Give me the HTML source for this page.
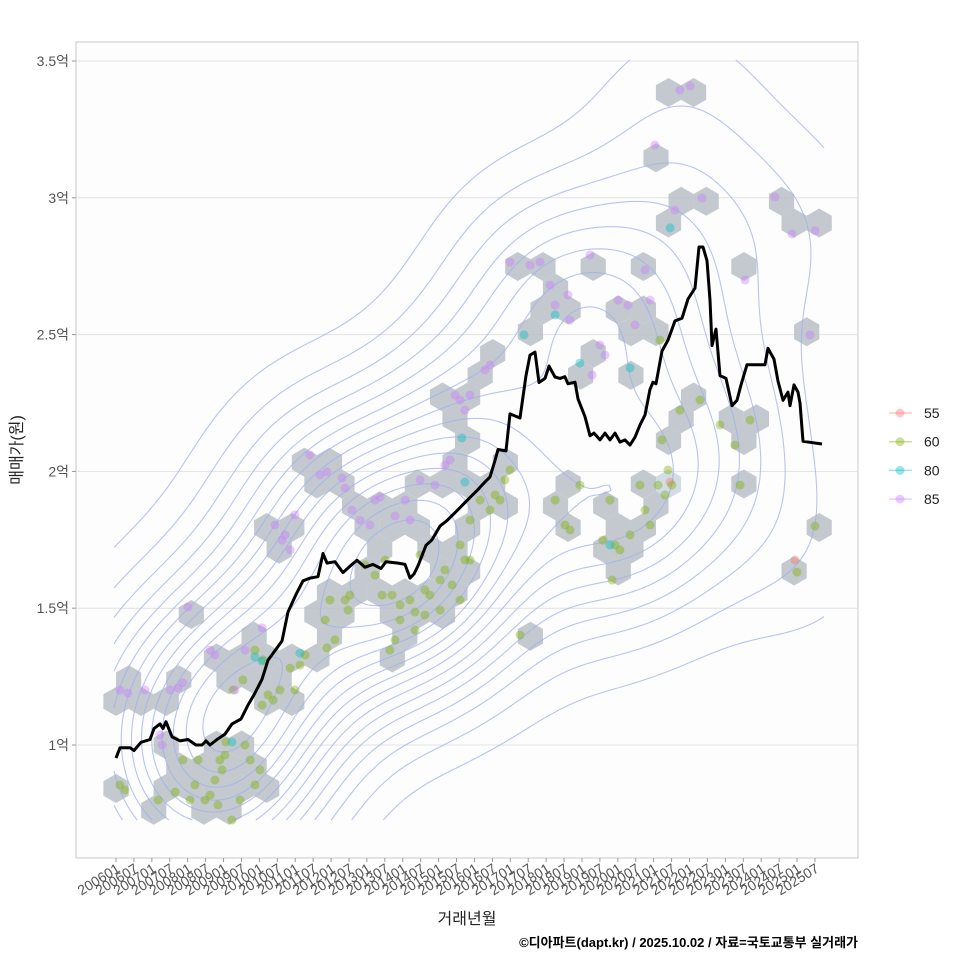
<!DOCTYPE html>
<html><head><meta charset="utf-8"><style>
html,body{margin:0;padding:0;background:#fff;}
svg{display:block;font-family:"Liberation Sans","Noto Sans CJK KR",sans-serif;}
</style></head><body>
<svg id="chart" width="960" height="960" viewBox="0 0 960 960">
<rect x="76" y="42" width="782" height="816" fill="#fdfdfd" stroke="#c8c8c8"/>
<g id="grid"></g>
<g id="hexes"></g>
<g id="contours"></g>
<g id="points"></g>
<g id="line"></g>
<g id="yaxis"></g>
<g id="xaxis"></g>
<text x="22" y="450" transform="rotate(-90 22 450)" text-anchor="middle" font-size="16" fill="#222">매매가(원)</text>
<text x="467" y="924" text-anchor="middle" font-size="16" fill="#222">거래년월</text>
<text x="858" y="947" text-anchor="end" font-size="13" font-weight="bold" fill="#000">©디아파트(dapt.kr) / 2025.10.02 / 자료=국토교통부 실거래가</text>
<g id="legend"></g>
</svg>
<script>
// ---- data ----
const yTicks = [1, 1.5, 2, 2.5, 3, 3.5];
const yTickLabels = ["1억", "1.5억", "2억", "2.5억", "3억", "3.5억"];
const legendAreas = ["55", "60", "80", "85"];
const legendColors = ["#F8766D", "#7CAE00", "#00BFC4", "#C77CFF"];
// median line: month index (0 = 2006-01) and price (억)
const lineMonths = [0,1.34,4.69,6.03,8.37,11.38,12.72,14.73,15.73,16.74,18.75,21.43,24.1,26.78,28.79,30.13,31.47,33.81,36.49,38.83,41.85,44.19,46.54,48.88,50.89,53.57,55.57,57.58,60.26,62.6,64.95,67.63,69.3,70.64,73.32,76,79.01,80.68,83.36,86.04,88.72,90.39,94.41,96.75,98.43,99.77,101.11,103.78,105.79,108.47,110.81,114.5,118.51,120.86,122.53,125.21,126.88,127.89,130.57,131.9,135.25,137.26,138.6,140.27,141.61,143.62,144.96,146.97,148.64,150.3,151.32,153.67,154.67,157.01,158.69,160.03,162.04,163.71,165.38,167.06,168.73,170.41,172.08,173.75,175.43,177.1,178.77,179.78,180.78,182.79,184.8,187.14,189.49,191.5,193.84,195.18,196.52,197.86,198.86,199.53,200.87,202.21,204.22,206.23,207.9,209.24,211.25,217.27,218.28,220.29,221.63,223.3,224.98,225.65,226.99,228.32,229,230,236.36];
const lineValues = [0.952,0.99,0.99,0.98,1.01,1.02,1.06,1.077,1.06,1.085,1.03,1.015,1.02,1.0,1.0,1.015,1.0,1.02,1.04,1.077,1.095,1.146,1.19,1.24,1.31,1.35,1.38,1.486,1.55,1.6,1.61,1.615,1.7,1.665,1.67,1.63,1.66,1.675,1.65,1.66,1.645,1.67,1.665,1.66,1.61,1.625,1.655,1.73,1.75,1.8,1.82,1.86,1.905,1.93,1.95,1.98,2.04,2.08,2.075,2.21,2.195,2.35,2.425,2.436,2.325,2.34,2.385,2.345,2.34,2.346,2.32,2.326,2.265,2.2,2.13,2.14,2.115,2.14,2.115,2.14,2.107,2.115,2.096,2.125,2.17,2.206,2.3,2.326,2.32,2.44,2.48,2.55,2.56,2.63,2.67,2.82,2.82,2.77,2.626,2.46,2.52,2.35,2.34,2.24,2.26,2.316,2.39,2.39,2.45,2.41,2.33,2.26,2.29,2.24,2.316,2.29,2.25,2.11,2.1];
// transactions per area group: month index, price (억)
const a60Months = [1.3,3.0,14.1,19.8,22.4,24.8,26.4,27.5,29.8,31.5,33.1,34.8,35.5,36.5,38.8,34.1,41.5,43.2,44.9,46.5,48.2,48.9,50.9,52.6,54.9,58.3,59.9,61.6,49.2,46.5,39.2,42.5,36.8,63.3,70.0,71.6,73.3,76.7,78.3,83.4,86.7,90.1,91.7,93.4,95.1,98.4,100.1,101.8,103.4,105.1,108.5,110.1,112.5,115.2,116.8,118.5,121.9,125.2,126.9,128.6,130.2,131.9,118.5,115.2,108.5,103.4,100.1,89.1,77.7,70.6,92.4,95.1,135.3,147.0,150.3,152.0,165.4,167.1,166.1,168.7,172.1,175.4,177.1,178.8,181.5,182.8,183.8,184.8,186.1,188.8,195.5,202.2,207.2,208.9,212.3,228.0,234.0,182.1,155.3,163.0];
const a60Values = [0.854,0.836,0.799,0.828,0.945,0.799,0.854,0.945,0.799,0.817,0.872,0.945,0.909,0.963,0.726,0.781,0.799,1.0,0.945,0.854,0.909,1.146,1.183,1.164,1.201,1.281,1.201,1.292,1.311,1.347,1.201,1.238,1.011,1.329,1.457,1.530,1.384,1.530,1.548,1.658,1.621,1.676,1.347,1.384,1.457,1.530,1.420,1.694,1.567,1.548,1.603,1.640,1.585,1.731,1.676,1.822,1.895,1.859,1.914,1.895,1.969,2.005,1.676,1.530,1.493,1.475,1.486,1.548,1.493,1.355,1.548,1.512,1.402,1.895,1.804,1.786,1.895,1.731,1.603,1.713,1.768,1.950,1.859,1.804,1.950,2.115,1.914,2.005,1.950,2.224,2.261,2.170,2.096,1.950,2.188,1.632,1.800,2.480,1.950,1.749];
const a85Months = [1.3,4.0,9.7,14.7,15.4,18.1,20.8,22.4,24.1,31.5,33.1,39.8,43.2,48.9,53.2,55.6,56.6,58.3,59.9,64.9,68.3,70.6,75.7,76.7,79.0,81.7,85.0,86.7,88.4,93.4,98.4,96.8,101.8,106.8,110.1,111.8,113.5,115.2,116.8,118.5,123.5,125.2,131.9,138.6,141.9,145.3,147.0,151.3,152.0,158.7,159.4,162.0,163.7,168.1,171.4,173.8,177.1,178.8,180.4,187.1,188.8,192.2,196.2,210.6,220.6,226.3,232.3,234.0];
const a85Values = [1.201,1.190,1.201,1.037,1.0,1.201,1.208,1.227,1.504,1.347,1.329,1.201,1.347,1.428,1.804,1.749,1.768,1.713,1.841,2.060,1.987,1.998,1.976,1.939,1.859,1.822,1.804,1.895,1.906,1.837,1.822,1.895,1.969,1.950,2.023,2.042,2.279,2.261,2.224,2.279,2.371,2.389,2.765,2.754,2.765,2.681,2.608,2.645,2.553,2.791,2.352,2.462,2.425,2.626,2.608,2.535,2.736,2.626,3.193,2.955,3.394,3.409,2.999,2.700,3.003,2.868,2.499,2.880];
const a80Months = [38.8,46.5,48.9,61.6,115.8,116.8,136.6,147.0,155.3,172.1,185.5,165.4];
const a80Values = [1.011,1.322,1.307,1.336,2.122,1.961,2.499,2.572,2.396,2.378,2.890,1.731];
const a55Months = [185.5,227.3];
const a55Values = [1.961,1.676];
const xTickLabels = [];
for (let yr = 2006; yr <= 2025; yr++) { xTickLabels.push(yr + "01"); xTickLabels.push(yr + "07"); }

// ---- scales ----
const NS = "http://www.w3.org/2000/svg";
function xS(m) { return 116 + m * 2.987; }
function yS(v) { return 745 - (v - 1) * 273.6; }
function mk(tag, attrs, parent) {
  const e = document.createElementNS(NS, tag);
  for (const k in attrs) e.setAttribute(k, attrs[k]);
  parent.appendChild(e);
  return e;
}
const gGrid = document.getElementById('grid');
const gY = document.getElementById('yaxis');
yTicks.forEach((v, i) => {
  const ln = mk('line', {x1: 76, x2: 858, y1: yS(v), y2: yS(v), stroke: '#e2e2e2', 'stroke-width': 1}, gGrid);
  
  
  const tk = mk('line', {x1: 72, x2: 76, y1: yS(v), y2: yS(v), stroke: '#999'}, gY);
  
  
  const t = mk('text', {x: 69, y: yS(v) + 5, 'text-anchor': 'end', 'font-size': 14, fill: '#555'}, gY);
  t.textContent = yTickLabels[i];
  
  
});
const gX = document.getElementById('xaxis');
xTickLabels.forEach((lab, i) => {
  const x = xS(i * 6);
  const tk = mk('line', {x1: x, x2: x, y1: 858, y2: 862, stroke: '#999'}, gX);
  
  
  const t = mk('text', {x: x + 5, y: 871, 'text-anchor': 'end', 'font-size': 14, fill: '#555', transform: `rotate(-32 ${x + 5} 871)`}, gX);
  t.textContent = lab;
  
  
});

// build pixel point list
const P = [], PG = [];
[[a55Months, a55Values, 0], [a60Months, a60Values, 1], [a80Months, a80Values, 2], [a85Months, a85Values, 3]].forEach(([ms, vs, g]) => {
  ms.forEach((m, i) => { P.push([xS(m), yS(vs[i])]); PG.push(g); });
});

// ---- hexbin ----
const gH = document.getElementById('hexes');
const R = 14.5, HW = Math.sqrt(3) * R, HR = 1.5 * R;
const bins = {};
P.forEach(([x, y]) => {
  let best = null, bd = 1e9;
  const r0 = Math.round((y - 745) / HR);
  for (let r = r0 - 1; r <= r0 + 1; r++) {
    const off = (((r % 2) + 2) % 2) ? HW / 2 : 0;
    const cy = 745 + r * HR;
    const c0 = Math.round((x - 116 - off) / HW);
    for (let c = c0 - 1; c <= c0 + 1; c++) {
      const cx = 116 + off + c * HW;
      const d = (cx - x) ** 2 + (cy - y) ** 2;
      if (d < bd) { bd = d; best = [cx, cy]; }
    }
  }
  const k = best[0].toFixed(1) + ',' + best[1].toFixed(1);
  bins[k] = (bins[k] || 0) + 1;
});
Object.keys(bins).forEach(k => {
  const [cx, cy] = k.split(',').map(Number);
  let pts = [];
  for (let a = 0; a < 6; a++) {
    const ang = Math.PI / 3 * a + Math.PI / 6;
    pts.push((cx + R * Math.cos(ang)).toFixed(1) + ',' + (cy + R * Math.sin(ang)).toFixed(1));
  }
  const n = bins[k];
  const h = mk('polygon', {points: pts.join(' '), fill: n >= 4 ? '#c9d6e0' : '#b9bfc5', opacity: 0.85}, gH);
  
  
});

// ---- KDE contours (marching squares) ----
const gC = document.getElementById('contours');
const X0 = 114, X1 = 824, Y0 = 60, Y1 = 820, STEP = 5;
const nx = Math.floor((X1 - X0) / STEP) + 1, ny = Math.floor((Y1 - Y0) / STEP) + 1;
const bx = 66, by = 76;
const G = [];
let gmax = 0;
for (let j = 0; j < ny; j++) {
  const row = [];
  const gy = Y0 + j * STEP;
  for (let i = 0; i < nx; i++) {
    const gx = X0 + i * STEP;
    let s = 0;
    for (const [px, py] of P) {
      const dx = (gx - px) / bx, dy = (gy - py) / by;
      s += Math.exp(-0.5 * (dx * dx + dy * dy));
    }
    row.push(s);
    if (s > gmax) gmax = s;
  }
  G.push(row);
}
const levels = [];
for (let l = 1; l <= 15; l++) levels.push(gmax * l / 16);
let d = '';
function lerp(a, b, va, vb, lv) { return a + (b - a) * (lv - va) / (vb - va); }
levels.forEach(lv => {
  for (let j = 0; j < ny - 1; j++) for (let i = 0; i < nx - 1; i++) {
    const x = X0 + i * STEP, y = Y0 + j * STEP;
    const a = G[j][i], b = G[j][i + 1], c = G[j + 1][i + 1], e = G[j + 1][i];
    const idx = (a > lv ? 8 : 0) | (b > lv ? 4 : 0) | (c > lv ? 2 : 0) | (e > lv ? 1 : 0);
    if (idx === 0 || idx === 15) continue;
    const T = [lerp(x, x + STEP, a, b, lv), y];
    const Rr = [x + STEP, lerp(y, y + STEP, b, c, lv)];
    const B = [lerp(x, x + STEP, e, c, lv), y + STEP];
    const L = [x, lerp(y, y + STEP, a, e, lv)];
    const segs = {1:[[L,B]],2:[[B,Rr]],3:[[L,Rr]],4:[[T,Rr]],5:[[L,T],[B,Rr]],6:[[T,B]],7:[[L,T]],8:[[L,T]],9:[[T,B]],10:[[T,Rr],[L,B]],11:[[T,Rr]],12:[[L,Rr]],13:[[B,Rr]],14:[[L,B]]}[idx];
    segs.forEach(([p, q]) => { d += `M${p[0].toFixed(1)},${p[1].toFixed(1)}L${q[0].toFixed(1)},${q[1].toFixed(1)}`; });
  }
});
const cp = mk('path', {d: d, fill: 'none', stroke: '#9fb0ee', 'stroke-width': 1.1, opacity: 0.75}, gC);



// ---- points ----
const gP = document.getElementById('points');
P.forEach(([x, y], i) => {
  const c = mk('circle', {cx: x.toFixed(1), cy: y.toFixed(1), r: 4.5, fill: legendColors[PG[i]], 'fill-opacity': 0.4}, gP);
  
  
});

// ---- median line ----
const gL = document.getElementById('line');
const lp = mk('path', {d: lineMonths.map((m, i) => (i ? 'L' : 'M') + xS(m).toFixed(1) + ',' + yS(lineValues[i]).toFixed(1)).join(''), fill: 'none', stroke: '#000', 'stroke-width': 3, 'stroke-linejoin': 'round'}, gL);



// ---- legend ----
const gLeg = document.getElementById('legend');
legendAreas.forEach((a, i) => {
  const y = 413 + i * 28.7;
  const g = mk('g', {}, gLeg);
  
  
  mk('line', {x1: 889, x2: 912, y1: y, y2: y, stroke: legendColors[i], 'stroke-opacity': 0.4, 'stroke-width': 1.5}, g);
  mk('circle', {cx: 900, cy: y, r: 4.5, fill: legendColors[i], 'fill-opacity': 0.4}, g);
  const t = mk('text', {x: 924, y: y + 5, 'font-size': 14, fill: '#222'}, g);
  t.textContent = a;
});
</script>
</body></html>
